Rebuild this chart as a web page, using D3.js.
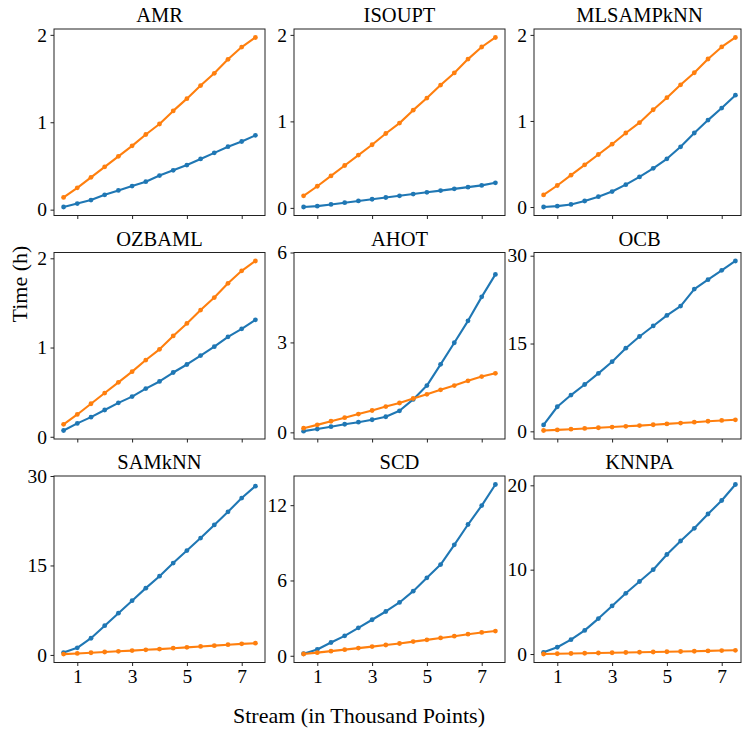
<!DOCTYPE html>
<html><head><meta charset="utf-8">
<script src="https://cdn.jsdelivr.net/npm/d3@7/dist/d3.min.js"></script>
<style>
body{margin:0;background:#fff}
svg{display:block}
svg text{font-family:'Liberation Serif','Times New Roman',Times,'Nimbus Roman','DejaVu Serif',serif !important;fill:#000}
</style>
</head><body>
<svg id="chart" width="742" height="731"></svg>
<script>
// ---------- data ----------
const streamK = [0.5,1,1.5,2,2.5,3,3.5,4,4.5,5,5.5,6,6.5,7,7.5];
const xTickValues = [1,3,5,7];
const panelTitles = ["AMR","ISOUPT","MLSAMPkNN","OZBAML","AHOT","OCB","SAMkNN","SCD","KNNPA"];

// orange series (shared by most panels)
const orangeTime = [0.14,0.25,0.37,0.49,0.61,0.73,0.86,0.98,1.13,1.27,1.42,1.56,1.72,1.86,1.97];
const orangeTimeKNNPA = [0.0,0.03,0.06,0.09,0.12,0.15,0.18,0.21,0.24,0.27,0.30,0.33,0.37,0.41,0.44];

// blue series
const blueAMR = [0.03,0.07,0.11,0.17,0.22,0.27,0.32,0.39,0.45,0.51,0.58,0.65,0.72,0.78,0.85];
const blueISOUPT = [0.01,0.02,0.04,0.06,0.08,0.10,0.12,0.14,0.16,0.18,0.20,0.22,0.24,0.26,0.29];
const blueMLSAMPkNN = [0.0,0.01,0.03,0.07,0.12,0.18,0.26,0.35,0.45,0.56,0.70,0.86,1.01,1.15,1.30];
const blueOZBAML = [0.07,0.15,0.22,0.30,0.38,0.45,0.54,0.62,0.72,0.81,0.91,1.01,1.12,1.21,1.31];
const blueAHOT = [0.04,0.11,0.19,0.27,0.34,0.42,0.52,0.72,1.10,1.56,2.27,2.99,3.72,4.52,5.27];
const blueOCB = [1.1,4.2,6.2,8.0,9.9,11.9,14.2,16.2,18.0,19.8,21.4,24.3,25.9,27.5,29.1];
const blueSAMkNN = [0.4,1.2,2.8,4.9,7.0,9.1,11.2,13.2,15.4,17.5,19.6,21.8,24.0,26.3,28.3];
const blueSCD = [0.16,0.50,1.06,1.59,2.23,2.87,3.53,4.25,5.15,6.21,7.27,8.84,10.46,11.97,13.65];
const blueKNNPA = [0.2,0.8,1.7,2.8,4.2,5.7,7.2,8.6,10.0,11.8,13.4,14.9,16.6,18.2,20.1];

// y tick labels
const yTicksAMR = [0,1,2];
const yTicksISOUPT = [0,1,2];
const yTicksMLSAMPkNN = [0,1,2];
const yTicksOZBAML = [0,1,2];
const yTicksAHOT = [0,3,6];
const yTicksOCB = [0,15,30];
const yTicksSAMkNN = [0,15,30];
const yTicksSCD = [0,6,12];
const yTicksKNNPA = [0,10,20];

const xLabel = "Stream (in Thousand Points)";
const yLabel = "Time (h)";

// ---------- assemble ----------
const blues = [blueAMR,blueISOUPT,blueMLSAMPkNN,blueOZBAML,blueAHOT,blueOCB,blueSAMkNN,blueSCD,blueKNNPA];
const oranges = [orangeTime,orangeTime,orangeTime,orangeTime,orangeTime,orangeTime,orangeTime,orangeTime,orangeTimeKNNPA];
const yTicks = [yTicksAMR,yTicksISOUPT,yTicksMLSAMPkNN,yTicksOZBAML,yTicksAHOT,yTicksOCB,yTicksSAMkNN,yTicksSCD,yTicksKNNPA];

const FONT = "'Liberation Serif','Times New Roman',Times,serif";
const BLUE = "#1f77b4", ORANGE = "#ff7f0e";
const colLeft = [54, 294, 534];
const rowTop = [29, 252.5, 476];
const W = 211, H = 186.5;
const svg = d3.select("#chart");

const xExt = d3.extent(streamK);
const xPad = (xExt[1]-xExt[0])*0.05;
const x = d3.scaleLinear().domain([xExt[0]-xPad, xExt[1]+xPad]).range([0, W]);

panelTitles.forEach((title, i) => {
  const r = Math.floor(i/3), c = i%3;
  const g = svg.append("g").attr("transform", `translate(${colLeft[c]},${rowTop[r]})`);
  const all = blues[i].concat(oranges[i]);
  const lo = d3.min(all), hi = d3.max(all), pad = (hi-lo)*0.05;
  const tk = yTicks[i];
  const y = d3.scaleLinear()
    .domain([Math.min(lo-pad, tk[0]), Math.max(hi+pad, tk[tk.length-1])])
    .range([H, 0]);

  const line = d3.line().x((d,j)=>x(streamK[j])).y(d=>y(d));
  [[blues[i], BLUE],[oranges[i], ORANGE]].forEach(([vals, col]) => {
    g.append("path").datum(vals).attr("d", line)
      .attr("fill","none").attr("stroke", col).attr("stroke-width", 2.1)
      .attr("stroke-linejoin","round").attr("stroke-linecap","round");
    g.selectAll(null).data(vals).enter().append("circle")
      .attr("cx",(d,j)=>x(streamK[j])).attr("cy", d=>y(d)).attr("r", 2.4)
      .attr("fill", col);
  });

  // axes
  const ya = g.append("g").call(d3.axisLeft(y).tickValues(tk).tickSize(3.5).tickPadding(3.5).tickFormat(d3.format("d")));
  const xa = g.append("g").attr("transform", `translate(0,${H})`)
    .call(d3.axisBottom(x).tickValues(xTickValues).tickSize(3.5).tickPadding(3.5)
      .tickFormat(r === 2 ? d3.format("d") : () => ""));
  [ya, xa].forEach(a => {
    a.select(".domain").remove();
    a.selectAll(".tick line").attr("stroke","#222").attr("stroke-width",1);
    a.selectAll(".tick text").attr("fill","#000").style("font-size","19.5px");
  });

  // frame
  const fw = Math.min(W, 741 - colLeft[c]);
  g.append("rect").attr("x",0).attr("y",0).attr("width",fw).attr("height",H)
    .attr("fill","none").attr("stroke","#222").attr("stroke-width",1);

  // title
  g.append("text").attr("x", W/2).attr("y", -7).attr("text-anchor","middle")
    .style("font-size","20.5px").text(title);
});

svg.append("text").attr("x", 359).attr("y", 723).attr("text-anchor","middle")
  .style("font-size","22px").text(xLabel);
svg.append("text").attr("transform","translate(27,284) rotate(-90)").attr("text-anchor","middle")
  .style("font-size","22px").text(yLabel);
</script>
</body></html>
